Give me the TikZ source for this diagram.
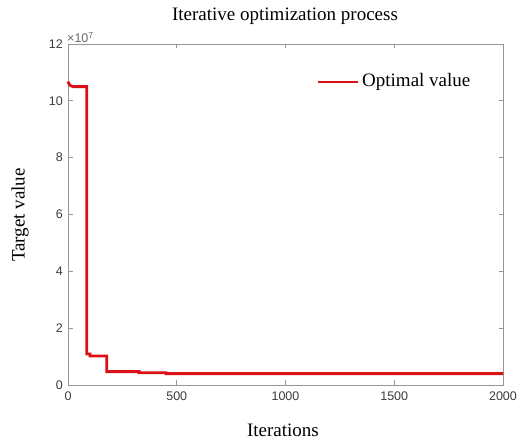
\documentclass[tikz,border=0pt]{standalone}
\usepackage{fontspec}
\setmainfont{Liberation Serif}
\setsansfont{Liberation Sans}
\usepackage{tikz}
\usetikzlibrary{positioning}
\definecolor{plotred}{RGB}{218,18,22}
\definecolor{axgray}{RGB}{150,150,150}
\definecolor{labgray}{RGB}{60,60,60}
\tikzset{
  ticklab/.style={font=\sffamily\fontsize{12.5}{12.5}\selectfont,text=labgray,inner sep=1pt},
  axlab/.style={font=\fontsize{19}{19}\selectfont,inner sep=0pt}
}

\begin{document}
\begin{tikzpicture}[x=1pt,y=1pt]
\useasboundingbox[fill=white] (0,0) rectangle (517,443);
% Axes box
\draw[axgray,line width=0.8pt] (68,58) rectangle (503,399);
% Y ticks and labels
\foreach \v in {0,2,...,12} {
  \draw[axgray,line width=0.8pt] (68,{58+\v*28.4167}) -- ++(4.5,0);
  \draw[axgray,line width=0.8pt] (503,{58+\v*28.4167}) -- ++(-4.5,0);
  \node[ticklab,anchor=east] (yt\v) at (64,{58+\v*28.4167}) {\v};
}
% X ticks and labels
\foreach \i in {0,500,1000,1500,2000} {
  \draw[axgray,line width=0.8pt] ({68+\i*0.2175},58) -- ++(0,4.5);
  \draw[axgray,line width=0.8pt] ({68+\i*0.2175},399) -- ++(0,-4.5);
  \node[ticklab,anchor=north] (xt\i) at ({68+\i*0.2175},52) {\i};
}
\node[ticklab,anchor=south west,text=axgray!70!black] (expo) at (66,399) {×10\textsuperscript{7}};
% Optimal value curve
\begin{scope}[shift={(68pt,58pt)},x=0.2175pt,y=28.4167pt]
\draw[plotred,line width=2.8pt,line join=miter]
  (0,10.68) -- (4,10.6) -- (12,10.53) -- (25,10.5) -- (86,10.5) -- (86,1.09)
  -- (101,1.09) -- (101,1.02) -- (178,1.02) -- (178,0.47) -- (327,0.47)
  -- (327,0.43) -- (451,0.43) -- (451,0.40) -- (2000,0.40);
\end{scope}
% Legend
\coordinate (legA) at (318,361);
\coordinate (legB) at (358,361);
\draw[plotred,line width=2.8pt] (legA) -- (legB);
\node[axlab,anchor=west,right=4pt of legB] (legtxt) {Optimal value};
% Titles
\node[axlab] (title) at (285,427) {Iterative optimization process};
\node[axlab] (xlab) at (283,13) {Iterations};
\node[axlab,rotate=90] (ylab) at (20,228) {Target value};
\end{tikzpicture}
\end{document}
